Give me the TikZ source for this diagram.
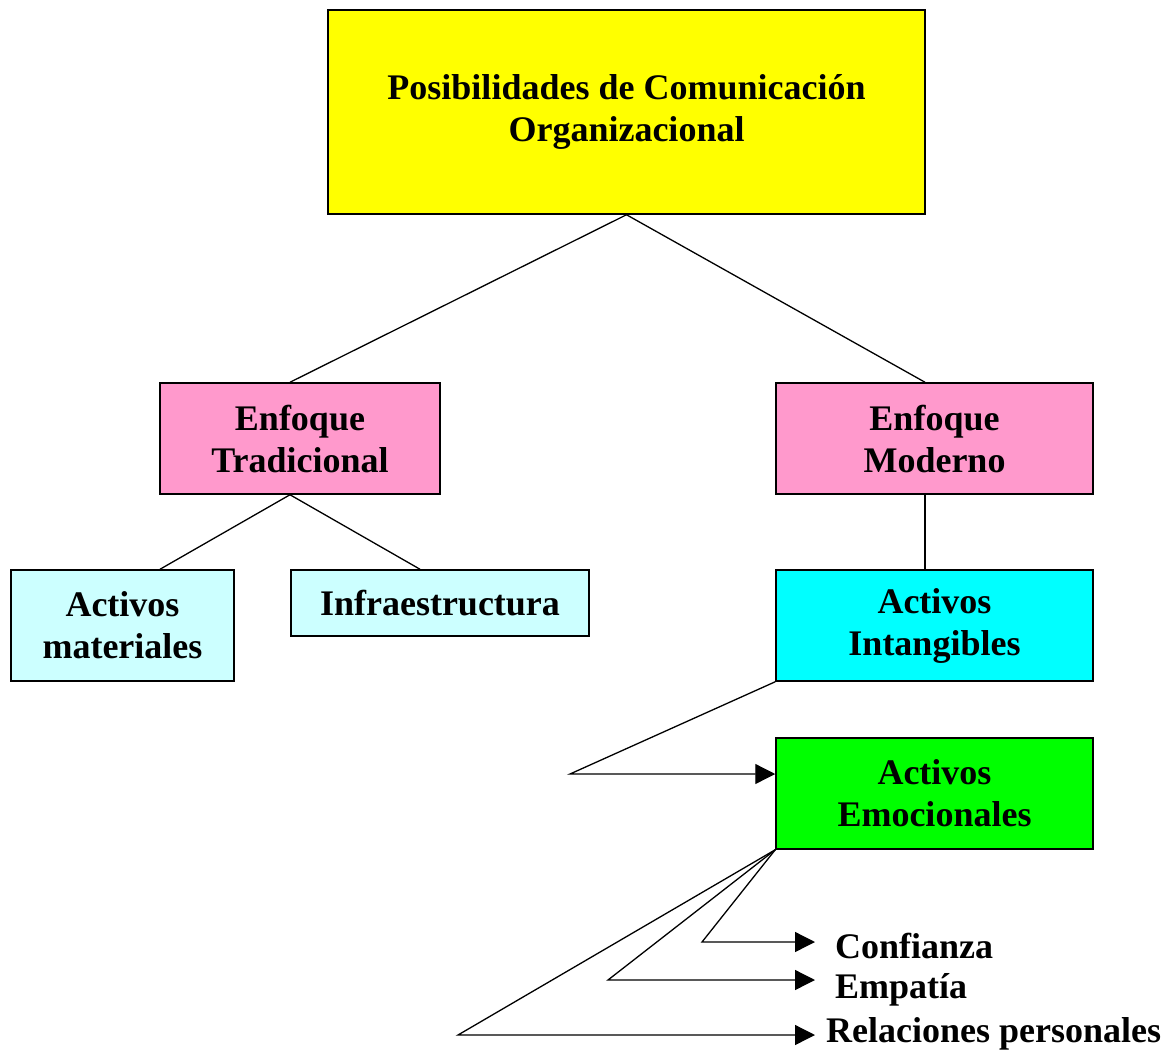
\documentclass[tikz,border=0pt]{standalone}
\usepackage{fontspec}
\setmainfont{Liberation Serif}
\usetikzlibrary{arrows.meta,calc}
\definecolor{amarillo}{RGB}{255,255,0}
\definecolor{rosa}{RGB}{255,153,204}
\definecolor{celeste}{RGB}{204,255,255}
\definecolor{cian}{RGB}{0,255,255}
\definecolor{verde}{RGB}{0,255,0}
\tikzset{caja/.style={draw, line width=1.5pt, inner sep=0pt, align=center,
    font=\fontsize{36}{42}\selectfont\bfseries},
  linea/.style={line width=1.3pt},
  flecha/.style={line width=1.3pt, -{Triangle[length=20pt,width=20pt]}},
  etiqueta/.style={inner xsep=20pt, inner ysep=0pt, anchor=base west,
    font=\fontsize{36}{42}\selectfont\bfseries}}
\begin{document}
\begin{tikzpicture}[x=1pt,y=-1pt]
\useasboundingbox (0,0) rectangle (1173,1055);
% cajas
\node[caja, fill=amarillo, minimum width=597pt, minimum height=204pt] (pos) at (626.5,112) {Posibilidades de Comunicación\\Organizacional};
\node[caja, fill=rosa, minimum width=280pt, minimum height=111pt] (trad) at (300,438.5) {Enfoque\\Tradicional};
\node[caja, fill=rosa, minimum width=317pt, minimum height=111pt] (mod) at (934.5,438.5) {Enfoque\\Moderno};
\node[caja, fill=celeste, minimum width=223pt, minimum height=111pt] (mat) at (122.5,625.5) {Activos\\materiales};
\node[caja, fill=celeste, minimum width=298pt, minimum height=66pt] (infra) at (440,603) {Infraestructura};
\node[caja, fill=cian, minimum width=317pt, minimum height=111pt] (intang) at (934.5,625.5) {Activos\\Intangibles};
\node[caja, fill=verde, minimum width=317pt, minimum height=111pt] (emo) at (934.5,793.5) {Activos\\Emocionales};
% textos sueltos
\node[etiqueta] (conf) at (815,958) {Confianza};
\node[etiqueta] (emp) at (815,998) {Empatía};
\node[etiqueta, inner xsep=11pt] (rel) at (815,1042) {Relaciones personales};
% conectores
\draw[linea] (pos.south) -- ($(trad.north)+(-10,0)$);
\draw[linea] (pos.south) -- ($(mod.north)+(-9.5,0)$);
\draw[linea] ($(trad.south)+(-10,0)$) -- ($(mat.north)+(37.5,0)$);
\draw[linea] ($(trad.south)+(-10,0)$) -- ($(infra.north)+(-20,0)$);
\draw[linea] ($(mod.south)+(-9.5,0)$) -- ($(intang.north)+(-9.5,0)$);
\coordinate (b1) at (570,774);
\draw[flecha] (intang.south west) -- (b1) -- (b1 -| emo.west);
\coordinate (c1) at (702,942);
\coordinate (c2) at (608,980);
\coordinate (c3) at (458,1035);
\draw[flecha] (emo.south west) -- (c1) -- (c1 -| conf.west);
\draw[flecha] (emo.south west) -- (c2) -- (c2 -| emp.west);
\draw[flecha] (emo.south west) -- (c3) -- (c3 -| rel.west);
\end{tikzpicture}
\end{document}
